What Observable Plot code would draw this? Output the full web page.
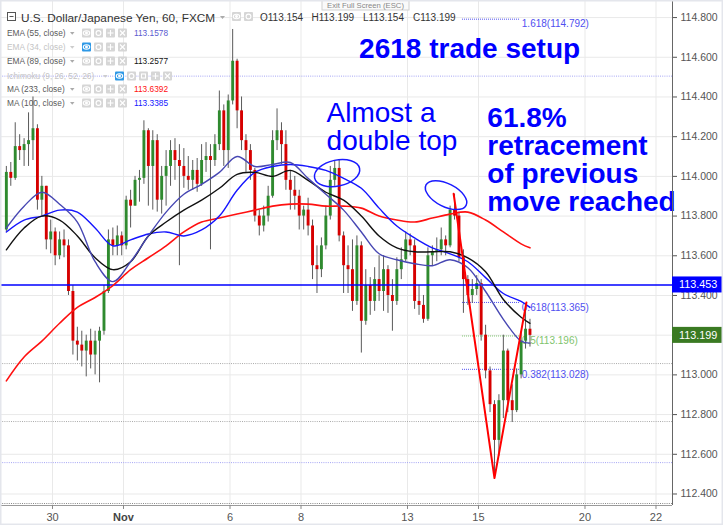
<!DOCTYPE html>
<html>
<head>
<meta charset="utf-8">
<script src="https://cdn.jsdelivr.net/npm/d3@7"></script>
<script src="https://cdn.jsdelivr.net/npm/@observablehq/plot@0.6"></script>
<style>
  html, body { margin: 0; padding: 0; background: #ffffff; }
  #chart { width: 723px; height: 525px; overflow: hidden; }
  #chart svg { display: block; }
</style>
</head>
<body>
<div id="chart"></div>
<script>
const FONT = "'Liberation Sans', Arial, Helvetica, sans-serif";

// ---- axes (time in trading days, Oct 30 = 0) ----
const dayTicks = [0, 2, 5, 7, 10, 12, 15, 17];
const dayLabels = ["30", "Nov", "6", "8", "13", "15", "20", "22"];
const priceTicks = [112.4, 112.6, 112.8, 113.0, 113.2, 113.4, 113.6, 113.8, 114.0, 114.2, 114.4, 114.6, 114.8];

// ---- candles (3-hour sampling of the hourly chart) ----
const candleStart = -1.3;
const candleStep = 0.125;
const firstOpen = 113.73;
const highs = [114.05,114.07,114.27,114.21,114.19,114.32,114.40,114.26,114.00,113.95,
113.78,113.74,113.72,113.73,113.68,113.45,113.24,113.22,113.20,113.23,
113.22,113.24,113.45,113.73,113.74,113.75,113.72,113.90,113.93,114.00,
114.03,114.28,114.24,114.23,114.21,114.05,114.13,114.18,114.19,114.16,
114.14,114.10,114.08,114.09,114.16,114.17,114.16,114.21,114.43,114.36,
114.41,114.74,114.59,114.40,114.21,114.16,114.04,113.83,113.85,113.95,
114.23,114.34,114.27,114.23,114.03,114.00,113.93,113.85,113.89,113.78,
113.65,113.69,113.85,114.05,114.08,114.08,113.72,113.65,113.68,113.70,
113.67,113.53,113.49,113.54,113.60,113.60,113.55,113.48,113.59,113.64,
113.72,113.71,113.68,113.45,113.40,113.64,113.65,113.69,113.74,113.70,
113.85,113.91,113.82,113.63,113.50,113.48,113.50,113.48,113.25,113.04,
112.87,112.90,113.20,113.13,112.95,113.03,113.22,113.35,113.28];
const lows = [113.72,113.95,113.98,114.08,114.05,114.05,114.08,113.83,113.80,113.63,
113.61,113.55,113.58,113.59,113.40,113.10,113.07,113.04,112.99,113.03,
113.00,112.96,113.20,113.41,113.60,113.60,113.60,113.63,113.74,113.85,
113.87,113.96,113.85,113.83,113.82,113.81,113.85,113.95,113.98,113.55,
113.94,113.93,113.93,113.92,113.95,114.02,113.63,114.05,114.13,114.05,
114.04,114.36,114.24,114.13,114.02,113.98,113.77,113.70,113.72,113.77,
113.89,114.13,114.06,113.93,113.83,113.83,113.73,113.73,113.70,113.48,
113.41,113.49,113.63,113.78,113.95,113.67,113.41,113.41,113.32,113.35,
113.11,113.25,113.30,113.32,113.37,113.32,113.31,113.22,113.35,113.48,
113.57,113.60,113.33,113.30,113.26,113.27,113.55,113.57,113.60,113.60,
113.64,113.78,113.57,113.31,113.35,113.36,113.40,113.17,112.98,112.81,
112.49,112.59,112.78,112.81,112.76,112.81,112.98,113.13,113.14];
const closes = [114.02,113.99,114.15,114.13,114.16,114.18,114.24,113.88,113.95,113.68,
113.72,113.60,113.68,113.65,113.42,113.17,113.15,113.12,113.17,113.10,
113.17,113.22,113.42,113.68,113.65,113.70,113.65,113.88,113.85,113.98,
113.99,114.23,114.05,114.18,113.88,114.00,114.05,114.13,114.08,114.05,
114.00,113.98,114.03,113.96,114.08,114.10,114.08,114.16,114.33,114.13,
114.38,114.58,114.33,114.18,114.13,114.03,113.80,113.75,113.80,113.90,
114.18,114.23,114.16,113.98,113.93,113.90,113.80,113.83,113.75,113.55,
113.53,113.65,113.80,113.98,114.04,113.70,113.55,113.53,113.37,113.65,
113.27,113.45,113.37,113.48,113.42,113.53,113.40,113.37,113.53,113.58,
113.68,113.65,113.37,113.35,113.28,113.60,113.62,113.63,113.68,113.65,
113.83,113.80,113.59,113.48,113.40,113.43,113.46,113.20,113.02,112.85,
112.67,112.87,113.12,112.87,112.82,113.00,113.17,113.23,113.199];

// ---- moving averages (sampled every half trading day, last at the final bar) ----
const maStart = -1.3;
const maStep = 0.5;
const maLastTime = 13.45;
const ema55 = [113.74,113.85,113.92,113.86,113.77,113.57,113.47,113.57,113.70,113.82,113.91,113.96,114.02,114.10,114.05,114.06,114.07,113.99,113.91,113.83,113.72,113.61,113.58,113.56,113.55,113.58,113.54,113.42,113.28,113.17,113.16];
const ema89 = [113.63,113.74,113.80,113.78,113.70,113.59,113.53,113.57,113.70,113.77,113.83,113.88,113.94,114.01,114.02,114.00,114.03,113.98,113.92,113.88,113.80,113.70,113.64,113.62,113.62,113.62,113.59,113.52,113.38,113.29,113.26];
const ma233 = [112.97,113.09,113.17,113.26,113.34,113.39,113.45,113.53,113.59,113.65,113.72,113.77,113.79,113.81,113.83,113.85,113.86,113.86,113.85,113.85,113.84,113.80,113.78,113.77,113.79,113.81,113.82,113.78,113.72,113.66,113.64];
const ma100 = [113.72,113.78,113.80,113.83,113.82,113.74,113.65,113.68,113.71,113.72,113.70,113.73,113.80,113.93,114.02,114.05,114.06,114.05,114.03,113.99,113.94,113.84,113.75,113.69,113.64,113.61,113.57,113.49,113.41,113.37,113.34];

// ---- drawings ----
const vTimes = [11.3, 12.45, 13.35];
const vPrices = [113.912, 112.48, 113.365];
const fibRatios = ["1.618", "0.618", "0.5", "0.382"];
const fibPrices = [114.792, 113.365, 113.196, 113.028];
const fibStart = 11.55, fibEnd = 13.18, fibLabelAt = 13.22;
const hLineLevels = [114.505, 113.057, 112.765, 112.558, 112.352];
const hLineKinds = ["alert", "level", "level", "alert", "base"];
const resistance = 113.453;
const lastPrice = 113.199;
const ellipseTimes = [8.03, 11.10];
const ellipsePrices = [114.014, 113.903];
const annotationTexts = ["2618 trade setup", "Almost a\ndouble top", "61.8%\nretracement\nof previous\nmove reached"];
const annotationTimes = [11.75, 7.72, 12.25];
const annotationPrices = [114.598, 114.135, 113.828];

// ---- header / legend texts ----
const titleText = "U.S. Dollar/Japanese Yen, 60, FXCM";
const ohlcText = ["O113.154", "H113.199", "L113.154", "C113.199"];
const legendLabels = ["EMA (55, close)", "EMA (34, close)", "EMA (89, close)", "Ichimoku (9, 26, 52, 26)", "MA (233, close)", "MA (100, close)"];
const legendHidden = [false, true, false, true, false, false];
const legendValues = ["113.1578", "", "113.2577", "", "113.6392", "113.3385"];
const tooltipText = "Exit Full Screen (ESC)";

// ---- build tables ----
const candles = closes.map((c, i) => ({t: candleStart + i * candleStep, o: i === 0 ? firstOpen : closes[i - 1], h: highs[i], l: lows[i], c}));
const maTimes = ema55.map((_, k) => k < ema55.length - 1 ? maStart + k * maStep : maLastTime);
const maColors = {ema55: "#4747b3", ema89: "#111111", ma233: "#ff1010", ma100: "#1515ff"};
const maTable = name => ({ema55, ema89, ma233, ma100})[name].map((v, k) => ({t: maTimes[k], v}));
const vPts = vTimes.map((t, i) => ({t, p: vPrices[i]}));
const fibs = fibRatios.map((r, i) => ({r, p: fibPrices[i], color: r === "0.5" ? "#7fc46e" : "#5050f0"}));
const kindColor = {alert: "#a4a4f4", level: "#a9a9a9", base: "#888888"};
const hLines = hLineLevels.map((p, i) => ({p, color: kindColor[hLineKinds[i]]}));
const xTickData = dayTicks.map((t, i) => ({t, label: dayLabels[i], month: isNaN(+dayLabels[i])}));
const annos = annotationTexts.map((text, i) => ({text, t: annotationTimes[i], p: annotationPrices[i]}));

const xDomain = [-1.465, 17.465];
const yDomain = [112.342, 114.886];
const bottom = yDomain[0];

function ellipsesMark(index, scales) {
  const g = d3.create("svg:g").attr("fill", "none").attr("stroke", "#1a1aff").attr("stroke-width", 1.5);
  const shapes = [[23, 13, -12], [22.5, 11.5, 27]];
  ellipseTimes.forEach((t, i) => {
    const cx = scales.x(t), cy = scales.y(ellipsePrices[i]);
    const [rx, ry, rot] = shapes[i];
    g.append("ellipse").attr("cx", cx).attr("cy", cy).attr("rx", rx).attr("ry", ry)
      .attr("transform", `rotate(${rot} ${cx} ${cy})`);
  });
  return g.node();
}

function priceBoxes(index, scales) {
  const g = d3.create("svg:g").attr("font-family", FONT).attr("text-anchor", "start");
  [[resistance, "#0000ff"], [lastPrice, "#3a7a22"]].forEach(([v, fill]) => {
    const y = scales.y(v);
    g.append("rect").attr("x", 672).attr("y", y - 8).attr("width", 51).attr("height", 16).attr("fill", fill);
    g.append("text").attr("x", 679).attr("y", y + 4).attr("fill", "#fff").attr("font-size", 10.8).text(v.toFixed(3));
  });
  return g.node();
}

function icon(g, x, y, kind, active) {
  g.append("rect").attr("x", x).attr("y", y).attr("width", 9).attr("height", 9).attr("rx", 1)
    .attr("fill", active ? "#2d98e6" : "#d6d6d6");
  const cx = x + 4.5, cy = y + 4.5;
  const s = g.append("g").attr("stroke", "#fff").attr("fill", "none").attr("stroke-width", 1.1);
  if (kind === "eye") { s.append("ellipse").attr("cx", cx).attr("cy", cy).attr("rx", 3.2).attr("ry", 2.2); s.append("circle").attr("cx", cx).attr("cy", cy).attr("r", 0.9).attr("fill", "#fff"); }
  else if (kind === "gear") { s.append("circle").attr("cx", cx).attr("cy", cy).attr("r", 2.4); }
  else if (kind === "plus") { s.append("path").attr("d", `M${cx - 3},${cy}H${cx + 3}M${cx},${cy - 3}V${cy + 3}`); }
  else if (kind === "lock") { s.append("rect").attr("x", cx - 2).attr("y", cy - 2).attr("width", 4).attr("height", 4); }
  else { s.append("path").attr("d", `M${cx - 2.5},${cy - 2.5}L${cx + 2.5},${cy + 2.5}M${cx + 2.5},${cy - 2.5}L${cx - 2.5},${cy + 2.5}`); }
}

function legendMark() {
  const g = d3.create("svg:g").attr("font-family", FONT).attr("text-anchor", "start");
  // tooltip
  g.append("rect").attr("x", 322).attr("y", -1).attr("width", 87).attr("height", 11).attr("fill", "#fafafa").attr("stroke", "#d0d0d0");
  g.append("text").attr("x", 365.5).attr("y", 7.5).attr("text-anchor", "middle").attr("font-size", 7.7).attr("fill", "#888").text(tooltipText);
  // title row
  g.append("rect").attr("x", 7.5).attr("y", 12.5).attr("width", 8).attr("height", 8).attr("fill", "#fff").attr("stroke", "#555");
  g.append("path").attr("d", "M9.5,16.5H13.5").attr("stroke", "#555");
  g.append("text").attr("x", 21).attr("y", 21.5).attr("font-size", 11.8).attr("fill", "#333").text(titleText);
  g.append("path").attr("d", "M220,16l5,0l-2.5,3z").attr("fill", "#aaa");
  icon(g, 232, 12, "eye", false);
  icon(g, 244, 12, "gear", false);
  const ohlcX = [260, 311.5, 363, 413];
  ohlcText.forEach((s, i) => g.append("text").attr("x", ohlcX[i]).attr("y", 21).attr("font-size", 10).attr("fill", "#333").text(s));
  // indicator rows
  const rowY = [33, 47, 61, 76, 89, 103];
  const valueColors = ["#5a5ad0", "", "#111", "", "#ff1010", "#1515ff"];
  legendLabels.forEach((lab, i) => {
    const y = rowY[i];
    const hidden = legendHidden[i];
    const wide = lab.startsWith("Ichimoku");
    g.append("text").attr("x", 7).attr("y", y + 3).attr("font-size", 8.3).attr("fill", hidden ? "#c4c4c4" : "#5a5a5a").text(lab);
    const ax = wide ? 103 : 70;
    g.append("path").attr("d", `M${ax},${y - 1}l4.5,0l-2.25,2.7z`).attr("fill", hidden ? "#ccc" : "#aaa");
    const x0 = wide ? 115 : 82;
    const kinds = wide ? ["eye", "gear", "lock", "plus", "x"] : ["eye", "gear", "plus", "x"];
    kinds.forEach((k, j) => icon(g, x0 + 12 * j, y - 4.5, k, hidden && j === 0));
    if (legendValues[i]) g.append("text").attr("x", 134).attr("y", y + 3).attr("font-size", 8.3).attr("fill", valueColors[i]).text(legendValues[i]);
  });
  // outer border
  g.append("rect").attr("x", 0.75).attr("y", 0.75).attr("width", 721.5).attr("height", 523.5).attr("fill", "none").attr("stroke", "#e4e6ec").attr("stroke-width", 1.5);
  return g.node();
}

const chart = Plot.plot({
  width: 723,
  height: 525,
  marginTop: 0,
  marginRight: 51,
  marginBottom: 20,
  marginLeft: 0,
  style: {background: "#ffffff", fontFamily: FONT, fontSize: "10.5px", color: "#555", overflow: "visible"},
  x: {domain: xDomain, axis: null},
  y: {domain: yDomain, axis: "right", ticks: priceTicks, tickFormat: d3.format(".3f"), tickSize: 4, tickPadding: 4, label: null},
  marks: [
    // grid
    Plot.ruleY(priceTicks, {y: d => d, stroke: "#e9e9e9"}),
    Plot.ruleX(dayTicks, {x: d => d, stroke: "#e9e9e9"}),
    // dotted horizontal levels
    Plot.ruleY(hLines, {y: "p", stroke: "color", strokeDasharray: "1,1.2"}),
    // fib retracement levels (behind candles)
    Plot.ruleY(fibs, {y: "p", x1: () => fibStart, x2: () => fibEnd, stroke: "color", strokeDasharray: "1,1"}),
    Plot.text(fibs, {x: () => fibLabelAt, y: "p", text: d => `${d.r}(${d.p.toFixed(3)})`, textAnchor: "start", dy: 5, fill: "color", fontSize: 10}),
    // candles
    Plot.ruleX(candles, {x: "t", y1: "l", y2: "h", stroke: "#5a5a5a", strokeWidth: 1}),
    Plot.ruleX(candles, {x: "t", y1: "o", y2: "c", stroke: d => d.c >= d.o ? "#2f8a2f" : "#d60000", strokeWidth: 2.9}),
    // horizontal resistance line
    Plot.ruleY([resistance], {y: d => d, stroke: "#0000ff", strokeWidth: 1.6}),
    // moving averages
    Plot.line(maTable("ma233"), {x: "t", y: "v", stroke: maColors.ma233, strokeWidth: 1.6, curve: "catmull-rom"}),
    Plot.line(maTable("ma100"), {x: "t", y: "v", stroke: maColors.ma100, strokeWidth: 1.4, curve: "catmull-rom"}),
    Plot.line(maTable("ema89"), {x: "t", y: "v", stroke: maColors.ema89, strokeWidth: 1.4, curve: "catmull-rom"}),
    Plot.line(maTable("ema55"), {x: "t", y: "v", stroke: maColors.ema55, strokeWidth: 1.4, curve: "catmull-rom"}),
    // V drawing
    Plot.line(vPts, {x: "t", y: "p", stroke: "#ff0000", strokeWidth: 2}),
    ellipsesMark,
    // annotations
    Plot.text([annos[0]], {x: "t", y: "p", text: "text", textAnchor: "middle", lineAnchor: "bottom", fontSize: 28, fontWeight: "bold", fill: "#0000ff"}),
    Plot.text([annos[1]], {x: "t", y: "p", text: "text", textAnchor: "start", lineAnchor: "bottom", fontSize: 28, lineHeight: 1, fill: "#0000ff"}),
    Plot.text([annos[2]], {x: "t", y: "p", text: "text", textAnchor: "start", lineAnchor: "bottom", fontSize: 28, lineHeight: 1, fontWeight: "bold", fill: "#0000ff"}),
    // axes lines and x labels
    Plot.ruleX([xDomain[1]], {x: d => d, stroke: "#666"}),
    Plot.ruleY([bottom], {y: d => d, x1: () => xDomain[0], x2: () => xDomain[1], stroke: "#9a9a9a"}),
    Plot.ruleX(dayTicks, {x: d => d, y1: () => bottom, y2: () => bottom - 0.02, stroke: "#888"}),
    Plot.text(xTickData.filter(d => !d.month), {x: "t", y: () => bottom, text: "label", dy: 12, fontSize: 11, fill: "#555"}),
    Plot.text(xTickData.filter(d => d.month), {x: "t", y: () => bottom, text: "label", dy: 12, fontSize: 11, fontWeight: "bold", fill: "#444"}),
    priceBoxes,
    legendMark
  ]
});

document.getElementById("chart").appendChild(chart);
</script>
</body>
</html>
